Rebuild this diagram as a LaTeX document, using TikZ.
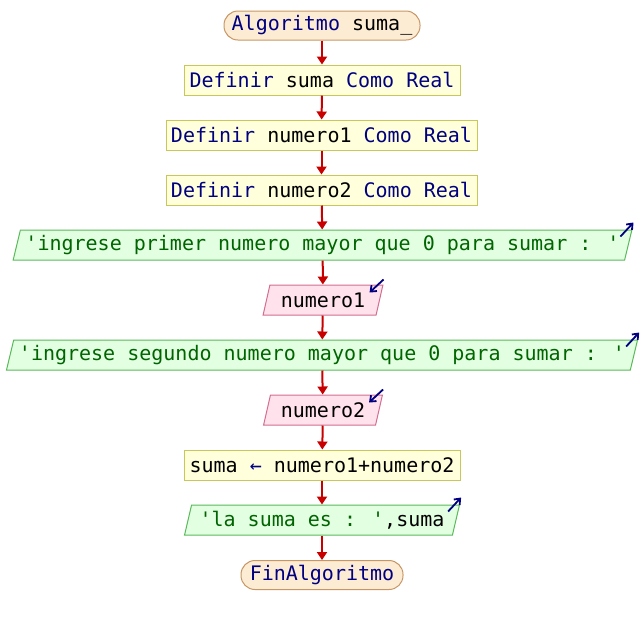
\documentclass[tikz,border=0pt]{standalone}
\usepackage{fontspec}
\newfontfamily\codefont{DejaVu Sans Mono}
\usetikzlibrary{shapes.geometric,arrows.meta,calc}

\definecolor{termfill}{RGB}{252,236,212}
\definecolor{termborder}{RGB}{200,150,100}
\definecolor{procfill}{RGB}{255,255,220}
\definecolor{procborder}{RGB}{200,200,90}
\definecolor{outfill}{RGB}{226,255,226}
\definecolor{outborder}{RGB}{90,185,90}
\definecolor{infill}{RGB}{255,226,236}
\definecolor{inborder}{RGB}{210,110,145}
\definecolor{flowred}{RGB}{200,0,0}
\definecolor{kwblue}{RGB}{0,0,128}
\definecolor{strgreen}{RGB}{0,100,0}

\newcommand\kw[1]{\textcolor{kwblue}{#1}}
\newcommand\strtxt[1]{\textcolor{strgreen}{#1}}

\tikzset{
  base/.style={font=\codefont\fontsize{20}{24}\selectfont, inner sep=0pt,
    minimum height=30pt, line width=1pt, text=black},
  terminal/.style={base, rectangle, rounded corners=14pt, minimum height=29pt,
    draw=termborder, fill=termfill},
  procbox/.style={base, rectangle, draw=procborder, fill=procfill},
  iobase/.style={base, trapezium, trapezium left angle=70, trapezium right angle=110,
    trapezium stretches=true},
  outbox/.style={iobase, draw=outborder, fill=outfill},
  inbox/.style={iobase, draw=inborder, fill=infill},
  flow/.style={draw=flowred, line width=2pt, -{Triangle[width=10pt,length=8pt]}},
  iomark/.style={draw=kwblue, line width=1.8pt, -{Straight Barb[length=5pt,width=8pt]}}
}

\begin{document}
\begin{tikzpicture}[x=1pt,y=-1pt]
\useasboundingbox (0,0) rectangle (644,625);

\node[terminal, minimum width=196pt] (start) at (322,25.5) {\kw{Algoritmo} suma\_};
\node[procbox, minimum width=276pt] (d1) at (322,80) {\kw{Definir} suma \kw{Como Real}};
\node[procbox, minimum width=311pt] (d2) at (321.5,135) {\kw{Definir} numero1 \kw{Como Real}};
\node[procbox, minimum width=311pt] (d3) at (321.5,190) {\kw{Definir} numero2 \kw{Como Real}};
\node[outbox, minimum width=623pt] (o1) at (322.5,245)
  {\strtxt{'ingrese primer numero mayor que 0 para sumar : '}};
\node[inbox, minimum width=120pt] (i1) at (323,300) {numero1};
\node[outbox, minimum width=635pt] (o2) at (322,355)
  {\strtxt{'ingrese segundo numero mayor que 0 para sumar : '}};
\node[inbox, minimum width=120pt] (i2) at (323,410) {numero2};
\node[procbox, minimum width=276pt] (a1) at (322,465) {suma \kw{←} numero1+numero2};
\node[outbox, minimum width=276pt] (o3) at (322,520) {\strtxt{'la suma es : '},suma};
\node[terminal, minimum width=162pt] (end) at (322,575) {\kw{FinAlgoritmo}};

\draw[flow] (start) -- (d1);
\draw[flow] (d1) -- (d2);
\draw[flow] (d2) -- (d3);
\draw[flow] (d3) -- (o1);
\draw[flow] (o1) -- (i1);
\draw[flow] (i1) -- (o2);
\draw[flow] (o2) -- (i2);
\draw[flow] (i2) -- (a1);
\draw[flow] (a1) -- (o3);
\draw[flow] (o3) -- (end);

% output markers point out of the top right corner, input markers point in
\foreach \n in {o1,o2,o3}
  \draw[iomark] ($(\n.top right corner)+(-12,7)$) -- ($(\n.top right corner)+(1,-7)$);
\foreach \n in {i1,i2}
  \draw[iomark] ($(\n.top right corner)+(0,-5)$) -- ($(\n.top right corner)+(-14,8)$);
\end{tikzpicture}
\end{document}
